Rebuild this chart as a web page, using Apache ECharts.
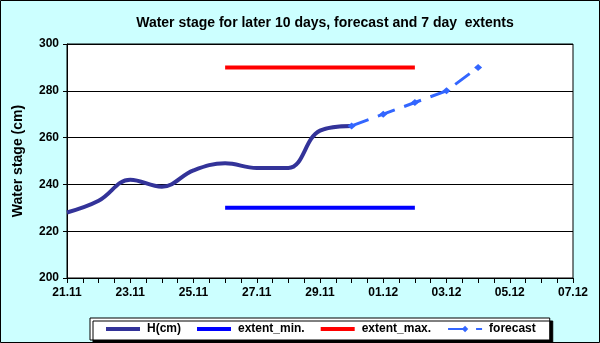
<!DOCTYPE html>
<html>
<head>
<meta charset="utf-8">
<script src="https://cdn.jsdelivr.net/npm/echarts@6/dist/echarts.min.js"></script>
<style>
  html, body { margin: 0; padding: 0; background: #ccffff; }
  #chart { width: 600px; height: 343px; }
</style>
</head>
<body>
<div id="chart"></div>
<script>
// dates on the x axis (one per day)
const categories = ['21.11', '22.11', '23.11', '24.11', '25.11', '26.11', '27.11', '28.11', '29.11',
  '30.11', '01.12', '02.12', '03.12', '04.12', '05.12', '06.12', '07.12'];

// observed water stage
const hDates = ['21.11', '22.11', '23.11', '24.11', '25.11', '26.11', '27.11', '28.11', '29.11', '30.11'];
const hValues = [228, 233, 242, 239, 246, 249, 247, 247, 263, 265];

// 7 day extents
const extentDates = ['26.11', '02.12'];
const extentMin = [230, 230];
const extentMax = [290, 290];

// forecast
const forecastDates = ['30.11', '01.12', '02.12', '03.12', '04.12'];
const forecastValues = [265, 270, 275, 280, 290];

const FONT = "'Liberation Sans', Arial, sans-serif";

function pairs(dates, values) {
  return dates.map((d, i) => [categories.indexOf(d), values[i]]);
}

const chart = echarts.init(document.getElementById('chart'), null, { renderer: 'canvas' });

const option = {
  backgroundColor: '#ccffff',
  animation: false,
  title: {
    text: 'Water stage for later 10 days, forecast and 7 day  extents',
    left: 320,
    textAlign: 'center',
    top: 11,
    textStyle: { fontFamily: FONT, fontSize: 14, fontWeight: 'bold', color: '#000' },
  },
  grid: {
    left: 67,
    right: 27,
    top: 44,
    bottom: 65,
    show: true,
    backgroundColor: '#fff',
    borderColor: '#000',
    borderWidth: 1,
  },
  xAxis: {
    type: 'value',
    min: 0,
    max: categories.length - 1,
    interval: 2,
    axisLine: { show: true, lineStyle: { color: '#000', width: 1 } },
    axisTick: { show: true, length: 5, lineStyle: { color: '#000' } },
    minorTick: { show: true, splitNumber: 4, length: 5, lineStyle: { color: '#000' } },
    splitLine: { show: false },
    axisLabel: {
      margin: 9,
      fontFamily: FONT,
      fontSize: 12,
      fontWeight: 'bold',
      color: '#000',
      formatter: (v) => categories[v] || '',
    },
  },
  yAxis: {
    type: 'value',
    min: 200,
    max: 300,
    interval: 20,
    name: 'Water stage (cm)',
    nameLocation: 'middle',
    nameGap: 42,
    nameTextStyle: { fontFamily: FONT, fontSize: 14, fontWeight: 'bold', color: '#000' },
    axisLine: { show: true, lineStyle: { color: '#000', width: 1 } },
    axisTick: { show: true, length: 4, lineStyle: { color: '#000' } },
    splitLine: { show: true, lineStyle: { color: '#000', width: 1 } },
    axisLabel: { margin: 8, fontFamily: FONT, fontSize: 12, fontWeight: 'bold', color: '#000' },
  },
  legend: {
    left: 90,
    top: 318,
    padding: [5, 14, 5, 16],
    itemWidth: 34,
    itemHeight: 8,
    itemGap: 16,
    backgroundColor: '#fff',
    borderColor: '#000',
    borderWidth: 1,
    borderRadius: 0,
    shadowColor: '#000',
    shadowBlur: 0,
    shadowOffsetX: 3,
    shadowOffsetY: 3,
    textStyle: { fontFamily: FONT, fontSize: 12, fontWeight: 'bold', color: '#000', padding: [0, 0, 0, 2] },
    data: [
      { name: 'H(cm)', icon: 'path://M0,0H34V4H0Z' },
      { name: 'extent_min.', icon: 'path://M0,0H34V4H0Z' },
      { name: 'extent_max.', icon: 'path://M0,0H34V4H0Z' },
      { name: 'forecast' },
    ],
  },
  graphic: [
    {
      type: 'rect',
      silent: true,
      z: 100,
      shape: { x: 0.5, y: 0.5, width: 599, height: 342 },
      style: { fill: 'none', stroke: '#000', lineWidth: 1 },
    },
  ],
  series: [
    {
      name: 'H(cm)',
      type: 'line',
      smooth: 0.4,
      showSymbol: false,
      symbol: 'none',
      data: pairs(hDates, hValues),
      lineStyle: { color: '#333399', width: 4 },
      itemStyle: { color: '#333399' },
      z: 3,
    },
    {
      name: 'extent_min.',
      type: 'line',
      symbol: 'none',
      data: pairs(extentDates, extentMin),
      lineStyle: { color: '#0000ff', width: 4 },
      itemStyle: { color: '#0000ff' },
      z: 2,
    },
    {
      name: 'extent_max.',
      type: 'line',
      symbol: 'none',
      data: pairs(extentDates, extentMax),
      lineStyle: { color: '#ff0000', width: 4 },
      itemStyle: { color: '#ff0000' },
      z: 2,
    },
    {
      name: 'forecast',
      type: 'line',
      symbol: 'diamond',
      symbolSize: [8, 7],
      showSymbol: true,
      data: pairs(forecastDates, forecastValues),
      lineStyle: { color: '#3366ff', width: 3, type: [18, 10] },
      itemStyle: { color: '#3366ff' },
      z: 4,
    },
  ],
};

chart.setOption(option);
</script>
</body>
</html>
